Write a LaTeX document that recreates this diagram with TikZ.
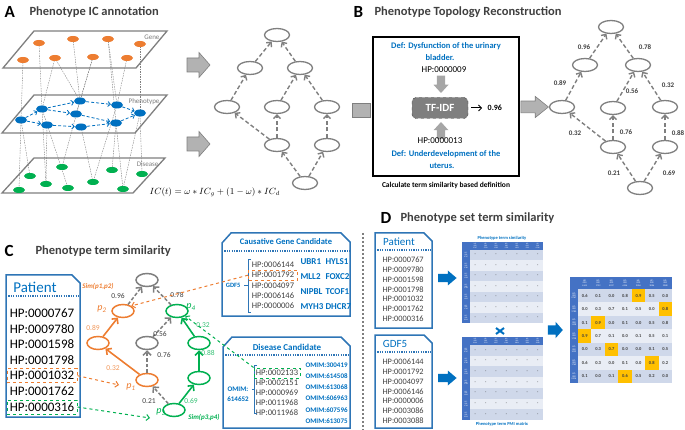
\documentclass[tikz,border=0pt]{standalone}
\usepackage{fontspec}
\setmainfont{Carlito}
\usetikzlibrary{positioning, arrows.meta, shapes.geometric}

\definecolor{ora}{HTML}{ED7D31}
\definecolor{grn}{HTML}{00B050}
\definecolor{blu}{HTML}{0070C0}
\definecolor{boxblu}{HTML}{2E75B6}
\definecolor{gry}{HTML}{7F7F7F}
\definecolor{ttl}{HTML}{404040}
\definecolor{hdr}{HTML}{4472C4}
\definecolor{rowa}{HTML}{CFD8EA}
\definecolor{rowb}{HTML}{E9EDF5}
\definecolor{hl}{HTML}{FFC000}

\newcommand{\fsz}[1]{\fontsize{#1}{#1}\selectfont}

\tikzset{
  letter/.style={font=\fsz{17}\bfseries, anchor=west},
  ptitle/.style={font=\fsz{12.5}\bfseries, text=ttl, anchor=west},
  plane/.style={draw=gry, line width=1.3pt, fill=white},
  planelbl/.style={font=\fsz{7}, text=gry, anchor=north east},
  gnode/.style={ellipse, fill=ora, minimum width=12pt, minimum height=6pt, inner sep=0pt},
  pnode/.style={ellipse, fill=blu, minimum width=12pt, minimum height=7pt, inner sep=0pt},
  dnode/.style={ellipse, fill=grn, minimum width=12pt, minimum height=6pt, inner sep=0pt},
  link/.style={gry, dash pattern=on 1.5pt off 1pt, line width=0.4pt},
  parr/.style={blu, dash pattern=on 3pt off 2pt, line width=0.8pt, -{Straight Barb[length=2.5pt,width=5pt]}},
  tnode/.style={ellipse, draw=gry, line width=1.3pt, fill=white, minimum width=25pt, minimum height=13pt, inner sep=0pt},
  dag/.style={gry, dash pattern=on 4pt off 2.5pt, line width=1.4pt, -{Straight Barb[length=3.5pt,width=7pt]}},
  wlabel/.style={font=\fsz{7}\bfseries, text=ttl},
  deftxt/.style={font=\fsz{8.5}\bfseries, text=blu},
  hptxt/.style={font=\fsz{9}},
  tfidf/.style={draw=black!75, dashed, rounded corners=4pt, fill=gry, text=white, font=\fsz{11}\bfseries, minimum width=56pt, minimum height=21pt},
  blockarrow/.pic={\path[pic actions] (-11,-7) -- (1,-7) -- (1,-12.5) -- (12,0) -- (1,12.5) -- (1,7) -- (-11,7) -- cycle;},
  cnode/.style={ellipse, line width=1.5pt, fill=white, minimum width=22pt, minimum height=13pt, inner sep=0pt},
  solidarr/.style={line width=1.6pt, -{Straight Barb[length=4pt,width=8pt]}},
  cdag/.style={gry, dash pattern=on 3.5pt off 2pt, line width=1.5pt, -{Straight Barb[length=4pt,width=8pt]}},
  clabel/.style={font=\fsz{7.5}},
  plabel/.style={font=\fsz{10}\itshape},
  simlbl/.style={font=\fsz{7}\bfseries\itshape},
  cdash/.style={dashed, line width=1pt, -{Straight Barb[length=3pt,width=6pt]}},
  boxline/.style={draw=boxblu, line width=1.5pt},
  dotline/.style={boxblu, line width=1.5pt, dash pattern=on 1.2pt off 1.2pt},
  brk/.style={boxblu, line width=0.8pt},
  gname/.style={font=\fsz{9}\bfseries, text=blu, anchor=west},
  omim/.style={font=\fsz{7}\bfseries, text=blu, anchor=west},
  hdrlbl/.style={font=\fsz{1.8}, text=white, align=center, inner sep=0pt},
  cell/.style={font=\fsz{4.5}\bfseries, text=ttl},
  mtitle/.style={font=\fsz{4.5}\bfseries, text=blu},
}

\begin{document}
\begin{tikzpicture}[x=1pt, y=-1pt]
\useasboundingbox (0,0) rectangle (685,430);

%% ---------------- A
\node[letter] (la) at (1,12) {A};
\node[ptitle] (ta) at (26,12) {Phenotype IC annotation};

\draw[plane] (34,31) -- (167,31) -- (136,68) -- (3,68) -- cycle;
\draw[plane] (34,95) -- (167,95) -- (135,133) -- (2,133) -- cycle;
\draw[plane] (34,158) -- (165,158) -- (133,193) -- (2,193) -- cycle;
\node[planelbl] (lg) at (163,31.5) {Gene};
\node[planelbl] (lp) at (163,95.5) {Phenotype};
\node[planelbl] (ld) at (162,158.5) {Disease};

\foreach \n/\x/\y in {1/39/43, 2/73/39, 3/108/39, 4/140/44, 5/23/60, 6/55/58, 7/93/57, 8/127/58}
  \coordinate (gc\n) at (\x,\y);
\foreach \n/\x/\y in {1/21/120, 2/42/109, 3/47/125, 4/80/101, 5/76/114, 6/81/127, 7/117/105, 8/116/123, 9/140/113}
  \coordinate (pc\n) at (\x,\y);
\foreach \n/\x/\y in {1/62/167, 2/112/170, 3/142/174, 4/30/176, 5/46/184, 6/93/182, 7/19/190, 8/68/188, 9/123/189}
  \coordinate (dc\n) at (\x,\y);

% cross-layer links
\foreach \a/\b in {5/1, 1/2, 6/2, 6/4, 7/4, 7/5, 3/8, 8/7, 4/9, 2/4, 3/7}
  \draw[link] (gc\a) -- (pc\b);
\foreach \a/\b in {1/7, 1/4, 2/5, 2/8, 4/1, 6/6, 7/6, 8/2, 8/9, 9/3, 9/9, 3/5}
  \draw[link] (pc\a) -- (dc\b);

\foreach \n in {1,...,8} \node[gnode] (g\n) at (gc\n) {};
\foreach \n in {1,...,9} \node[pnode] (ph\n) at (pc\n) {};
\foreach \n in {1,...,9} \node[dnode] (d\n) at (dc\n) {};
\foreach \a/\b in {1/2, 1/3, 2/4, 2/5, 3/6, 4/7, 5/8, 6/8, 7/9, 8/9}
  \draw[parr] (ph\a) -- (ph\b);

\node[anchor=west, font=\fsz{9}] (fa) at (146,192) {$IC(t)=\omega * IC_g+(1-\omega) * IC_d$};

\pic[fill=gray!60, draw=gry, line width=0.6pt] at (198,65) {blockarrow};
\pic[fill=gray!60, draw=gry, line width=0.6pt] at (198,144) {blockarrow};

\foreach \n/\x/\y in {t/277/35, l2/250/68, r2/300/68, l3/227/107, m3/277/107, r3/327/107, l4/277/145, r4/327/145, b/305/183}
  \node[tnode] (a\n) at (\x,\y) {};
\foreach \s/\t in {b/l4, b/r4, l4/l3, l4/m3, r4/r3, m3/r2, r3/r2, l3/l2, l2/t, r2/t}
  \draw[dag] (a\s) -- (a\t);

%% ---------------- B
\node[letter] (lb) at (350,12) {B};
\node[ptitle] (tb) at (371,12) {Phenotype Topology Reconstruction};
\filldraw[fill=gray!60, draw=gry, line width=0.6pt] (352,103) rectangle (370,117);

\draw[line width=1.3pt] (373,37) rectangle (519,176);
\node[deftxt] (def1) at (446,46) {Def: Dysfunction of the urinary};
\node[deftxt] (def1b) at (440,58) {bladder.};
\node[hptxt] (hp9) at (444,70) {HP:0000009};
\pic[fill=gray!70, rotate=-90, scale=0.75, yscale=0.8] at (441,84) {blockarrow};
\node[tfidf] (tf) at (440,108) {TF-IDF};
\node[font=\fsz{8}\bfseries, right=16pt of tf] (s96) {0.96};
\draw[line width=1pt, shorten <=3pt, shorten >=2pt, -{Straight Barb[length=3pt,width=6pt]}] (tf) -- (s96);
\pic[fill=gray!70, rotate=90, scale=0.75, yscale=0.8] at (441,131) {blockarrow};
\node[hptxt] (hp13) at (440,141) {HP:0000013};
\node[deftxt] (def2) at (446,154) {Def: Underdevelopment of the};
\node[deftxt] (def2b) at (442,166) {uterus.};
\node[font=\fsz{7.5}\bfseries] (calc) at (446,185) {Calculate term similarity based definition};

\pic[fill=gray!60, draw=gry, line width=0.6pt, xscale=1.2, yscale=0.85] at (534,107) {blockarrow};

\foreach \n/\x/\y in {t/611/27, l2/585/65, r2/638/65, l3/562/107, m3/613/108, r3/665/107, l4/613/147, r4/665/147, b/640/188}
  \node[tnode] (b\n) at (\x,\y) {};
\foreach \s/\t in {b/l4, b/r4, l4/l3, l4/m3, r4/r3, m3/r2, r3/r2, l3/l2, l2/t, r2/t}
  \draw[dag] (b\s) -- (b\t);
\foreach \n/\x/\y/\t in {1/584/47/0.96, 2/645/47/0.78, 3/560/83/0.89, 4/632/91/0.56, 5/668/85/0.32,
                         6/575/133/0.32, 7/626/132/0.76, 8/678/133/0.88, 9/614/173/0.21, 10/669/173/0.69}
  \node[wlabel] (bw\n) at (\x,\y) {\t};

%% ---------------- C
\node[letter] (lc) at (1,251) {C};
\node[ptitle] (tc) at (32,251) {Phenotype term similarity};

\draw[boxline] (6,275) -- (72,275) -- (80,283) -- (80,417) -- (6,417) -- cycle;
\node[font=\fsz{15}, text=blu] (cpt) at (35,287) {Patient};
\draw[dotline] (6,296) -- (80,296);
\foreach \h [count=\i from 0] in {0000767,0009780,0001598,0001798,0001032,0001762,0000316}
  \node[font=\fsz{13}] (cpat\i) at (42,{313+15.67*\i}) {HP:\h};
\node[draw=ora, dashed, line width=1pt, minimum width=70pt, minimum height=14pt] (hpA) at (cpat4) {};
\node[draw=grn, dashed, line width=1pt, minimum width=70pt, minimum height=14pt] (hpB) at (cpat6) {};

\foreach \n/\x/\y/\c in {t/147/280/gry, p2/123/311/ora, p4/177/311/grn, l3/98/343/ora, m3/147/343/gry,
                         r3/199/343/grn, p1/147/380/ora, r4/199/378/grn, p3/174/410/grn}
  \node[cnode, draw=\c] (c\n) at (\x,\y) {};
\foreach \s/\t in {p2/t, p4/t, m3/p4, p1/m3, p3/p1}
  \draw[cdag] (c\s) -- (c\t);
\foreach \s/\t in {p1/l3, l3/p2}
  \draw[solidarr, ora] (c\s) -- (c\t);
\foreach \s/\t in {p3/r4, r4/r3, r3/p4}
  \draw[solidarr, grn] (c\s) -- (c\t);

\foreach \n/\x/\y/\t/\c in {1/118/296/0.96/ttl, 2/177/295/0.78/ttl, 3/93/328/0.89/ora!80, 4/160/334/0.56/ttl,
                            5/203/325/0.32/grn!80, 6/113/368/0.32/ora!80, 7/164/355/0.76/ttl, 8/208/353/0.88/grn!80,
                            9/149/401/0.21/ttl, 10/191/401/0.69/grn!80}
  \node[clabel, text=\c] (cw\n) at (\x,\y) {\t};

\node[plabel, text=ora] (lp2) at (102,309) {p\textsubscript{2}};
\node[plabel, text=grn] (lp4) at (191,307) {p\textsubscript{4}};
\node[plabel, text=ora] (lp1) at (131,387) {p\textsubscript{1}};
\node[plabel, text=grn] (lp3) at (161,412) {p\textsubscript{3}};
\node[simlbl, text=ora] (sim12) at (98,286) {Sim(p1,p2)};
\node[simlbl, text=grn] (sim34) at (204,417) {Sim(p3,p4)};

% gene candidate box
\draw[boxline] (222,243) -- (231,233) -- (341,233) -- (350,242) -- (350,316) -- (222,316) -- cycle;
\node[font=\fsz{8.5}\bfseries, text=blu] (gct) at (286,242) {Causative Gene Candidate};
\draw[dotline] (222,251) -- (350,251);
\foreach \h [count=\i from 0] in {0006144,0001792,0004097,0006146,0000006}
  \node[font=\fsz{8.5}, text=ttl] (ghp\i) at (273,{265+10.2*\i}) {HP:\h};
\draw[brk] (251,259) -- (248,259) -- (248,312) -- (251,312);
\node[font=\fsz{6.5}\bfseries, text=blu, anchor=east] (gdf) at (244,285) {GDF5};
\coordinate (gbr) at (248,285);
\draw[brk] (gdf) -- (gbr);
\foreach \a/\b/\y [count=\i] in {UBR1/HYLS1/262, MLL2/FOXC2/277, NIPBL/TCOF1/292, MYH3/DHCR7/307}
{
  \node[gname] (gn\i a) at (297,\y) {\a};
  \node[gname] (gn\i b) at (322,\y) {\b};
}
\node[draw=ora, dashed, line width=1pt, minimum width=49pt, minimum height=10pt] (gA) at (ghp1) {};

% disease candidate box
\draw[boxline] (223,347) -- (232,337) -- (341,337) -- (350,346) -- (350,428) -- (223,428) -- cycle;
\node[font=\fsz{9}\bfseries, text=blu] (dct) at (287,347) {Disease Candidate};
\draw[dotline] (223,355) -- (350,355);
\foreach \h [count=\i from 0] in {0002133,0002151,0000969,0011968,0011968}
  \node[font=\fsz{8.5}, text=ttl] (dhp\i) at (277,{373+9.8*\i}) {HP:\h};
\draw[brk] (257,365) -- (254,365) -- (254,413) -- (257,413);
\node[font=\fsz{7}\bfseries, text=blu] (om1) at (238,389) {OMIM:};
\node[font=\fsz{7}\bfseries, text=blu] (om2) at (238,399) {614652};
\coordinate (dbr) at (254,389);
\draw[brk] (om1.east) -- (dbr);
\foreach \o [count=\i from 0] in {300419,614508,613068,606963,607596,613075}
  \node[omim] (dom\i) at (302,{365+11.2*\i}) {OMIM:\o};
\node[draw=grn, dashed, line width=1pt, minimum width=46pt, minimum height=10pt] (dA) at (dhp0) {};

% links into the graph
\coordinate (p1in) at (119,385);
\coordinate (p3in) at (150,418);
\draw[cdash, ora] (hpA.east) -- (p1in);
\draw[cdash, grn] (hpB.east) -- (p3in);
\draw[cdash, ora] (gA.west) -- (cp2.north east);
\draw[cdash, grn] (dA.north west) -- (cp4.south east);

\draw[gry, line width=1.2pt, dash pattern=on 2pt off 2pt] (363,233) -- (363,430);

%% ---------------- D
\node[letter] (ld4) at (377,218) {D};
\node[ptitle] (td) at (397,218) {Phenotype set term similarity};

\draw[boxline] (375,233) -- (424,233) -- (432,241) -- (432,328) -- (375,328) -- cycle;
\node[font=\fsz{11}, text=blu] (dpt) at (399,242) {Patient};
\draw[dotline] (375,250) -- (432,250);
\foreach \h [count=\i from 0] in {0000767,0009780,0001598,0001798,0001032,0001762,0000316}
  \node[font=\fsz{8.3}, text=ttl, anchor=west] (dpat\i) at (379,{260+9.8*\i}) {HP:\h};

\draw[boxline] (375,335) -- (424,335) -- (432,343) -- (432,428) -- (375,428) -- cycle;
\node[font=\fsz{11}, text=blu] (dgd) at (395,344) {GDF5};
\draw[dotline] (375,352) -- (432,352);
\foreach \h [count=\i from 0] in {0006144,0001792,0004097,0006146,0000006,0003086,0003088}
  \node[font=\fsz{8.3}, text=ttl, anchor=west] (dgen\i) at (379,{362+9.8*\i}) {HP:\h};

\pic[fill=blu, scale=0.8, yscale=0.75] at (447,278) {blockarrow};
\pic[fill=blu, scale=0.8, yscale=0.75] at (447,378) {blockarrow};

% similarity matrix
\node[mtitle] (m1t) at (502,238) {Phenotype term similarity};
\fill[hdr] (462,242) rectangle (543,250);
\fill[hdr] (462,242) rectangle (470,323);
\foreach \i in {0,...,6} {
  \ifodd\i \def\rc{rowb}\else\def\rc{rowa}\fi
  \fill[\rc] (470,{250+10.43*\i}) rectangle (543,{250+10.43*(\i+1)});
  \foreach \j in {0,...,6}
    \node[font=\fsz{4}\bfseries, text=ttl] (sa\i\j) at ({475.2+10.43*\j},{255.2+10.43*\i}) {-};
}
\foreach \a [count=\j from 0] in {0767,9780,1598,1798,1032,1762,0316} {
  \node[hdrlbl] (sc\j) at ({475.2+10.43*\j},246) {HP:\\000\\\a};
  \node[hdrlbl] (sr\j) at (466,{255.2+10.43*\j}) {HP:\\000\\\a};
}

\draw[blu, line width=2pt] (496,328) -- (504,334) (496,334) -- (504,328);

% PMI matrix
\fill[hdr] (462,337) rectangle (543,345);
\fill[hdr] (462,337) rectangle (470,420);
\foreach \i in {0,...,6} {
  \ifodd\i \def\rc{rowb}\else\def\rc{rowa}\fi
  \fill[\rc] (470,{345+10.71*\i}) rectangle (543,{345+10.71*(\i+1)});
  \foreach \j in {0,...,6}
    \node[font=\fsz{4}\bfseries, text=ttl] (sb\i\j) at ({475.2+10.43*\j},{350.4+10.71*\i}) {-};
}
\foreach \a [count=\j from 0] in {6144,1792,4097,6146,0006,3086,3088} {
  \node[hdrlbl] (pc\j) at ({475.2+10.43*\j},341) {HP:\\000\\\a};
}
\foreach \a [count=\j from 0] in {0767,9780,1598,1798,1032,1762,0316} {
  \node[hdrlbl] (pr\j) at (466,{350.4+10.71*\j}) {HP:\\000\\\a};
}
\node[mtitle] (m2t) at (502,424) {Phenotype term PMI matrix};

\pic[fill=blu, scale=0.65] at (555,330) {blockarrow};

% result matrix
\fill[hdr] (570,277) rectangle (672,289);
\fill[hdr] (570,277) rectangle (578,383);
\foreach \i in {0,...,6} {
  \ifodd\i \def\rc{rowb}\else\def\rc{rowa}\fi
  \fill[\rc] (578,{289+13.43*\i}) rectangle (672,{289+13.43*(\i+1)});
}
\foreach \i/\j in {0/4, 1/6, 2/1, 3/0, 4/2, 5/5, 6/3}
  \fill[hl] ({578+13.43*\j},{289+13.43*\i}) rectangle ({578+13.43*(\j+1)},{289+13.43*(\i+1)});
\foreach \row [count=\i from 0] in {{0.6,0.1,0.0,0.8,0.9,0.5,0.0},{0.0,0.3,0.7,0.1,0.5,0.0,0.8},
    {0.1,0.9,0.0,0.1,0.0,0.5,0.8},{0.9,0.7,0.1,0.0,0.1,0.5,0.1},{0.0,0.3,0.7,0.0,0.0,0.1,0.5},
    {0.6,0.3,0.0,0.1,0.0,0.8,0.2},{0.1,0.0,0.1,0.6,0.5,0.2,0.0}}
  \foreach \v [count=\j from 0] in \row
    \node[cell] (r\i\j) at ({584.7+13.43*\j},{295.7+13.43*\i}) {\v};
\foreach \a [count=\j from 0] in {6144,1792,4097,6146,0006,3086,3088}
  \node[hdrlbl, font=\fsz{2.3}] (rc\j) at ({584.7+13.43*\j},283) {HP:\\000\\\a};
\foreach \a [count=\j from 0] in {0767,9780,1598,1798,1032,1762,0316}
  \node[hdrlbl, font=\fsz{2.3}] (rr\j) at (574,{295.7+13.43*\j}) {HP:\\000\\\a};

\end{tikzpicture}
\end{document}
